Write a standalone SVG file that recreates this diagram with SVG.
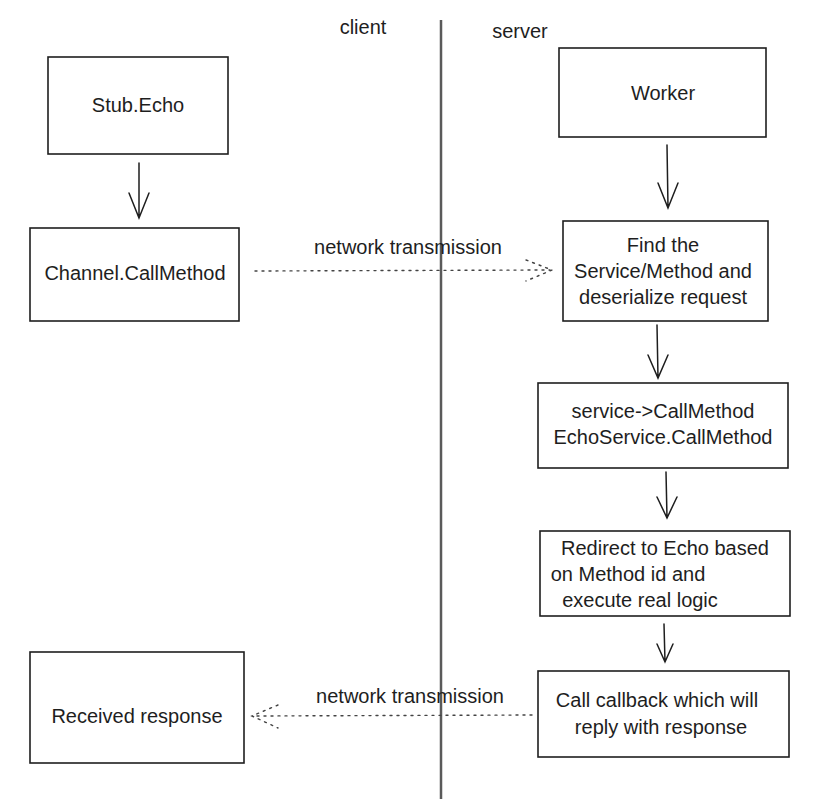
<svg xmlns="http://www.w3.org/2000/svg" width="826" height="799" viewBox="0 0 826 799">
<style>
.box{fill:#fff;stroke:#1e1e1e;stroke-width:1.6}
.t{font-family:"Liberation Sans",Arial,sans-serif;font-size:20px;fill:#1e1e1e;text-anchor:middle}
.arr{fill:none;stroke:#1e1e1e;stroke-width:1.5;stroke-linecap:round}
.dot{fill:none;stroke:#444;stroke-width:1.4;stroke-dasharray:2 5;stroke-linecap:round}
</style>
<rect width="826" height="799" fill="#fff"/>
<line x1="441" y1="20" x2="441" y2="799" stroke="#5a5a5a" stroke-width="2.5"/>
<text class="t" x="363" y="34">client</text>
<text class="t" x="520" y="38">server</text>
<g id="stub"><rect class="box" x="48" y="57" width="180" height="97"/><text class="t" x="138" y="112">Stub.Echo</text></g>
<g id="channel"><rect class="box" x="30" y="228" width="209" height="93"/><text class="t" x="135" y="280">Channel.CallMethod</text></g>
<g id="worker"><rect class="box" x="559" y="48" width="207" height="89"/><text class="t" x="663" y="100">Worker</text></g>
<g id="find"><rect class="box" x="563" y="221" width="205" height="100"/><text class="t" x="663" y="252">Find the</text><text class="t" x="663" y="278">Service/Method and</text><text class="t" x="663" y="304">deserialize request</text></g>
<g id="service"><rect class="box" x="538" y="383" width="250" height="85"/><text class="t" x="663" y="418">service-&gt;CallMethod</text><text class="t" x="663" y="444">EchoService.CallMethod</text></g>
<g id="redirect"><rect class="box" x="540" y="531" width="250" height="85"/><text class="t" x="665" y="555">Redirect to Echo based</text><text class="t" x="628" y="581">on Method id and</text><text class="t" x="640" y="607">execute real logic</text></g>
<g id="callback"><rect class="box" x="538" y="671" width="251" height="86"/><text class="t" x="657" y="707">Call callback which will</text><text class="t" x="661" y="734">reply with response</text></g>
<g id="received"><rect class="box" x="30" y="652" width="214" height="111"/><text class="t" x="137" y="723">Received response</text></g>
<g id="connectors">
<path class="arr" d="M139 163 L139 218 M129 193 L139 218 L149 193"/>
<path class="arr" d="M667 145 L668 208 M658 183 L668 208 L678 183"/>
<path class="arr" d="M657 325 L658 378 M648 355 L658 378 L668 355"/>
<path class="arr" d="M666 472 L667 518 M657 497 L667 518 L677 497"/>
<path class="arr" d="M664 624 L665 662 M657 644 L665 662 L673 644"/>
<path class="dot" d="M255 271 L550 270 M526 260 L552 270 L526 281"/>
<path class="dot" d="M532 715 L254 716 M278 705 L252 716 L278 728"/>
<text class="t" x="408" y="254">network transmission</text>
<text class="t" x="410" y="703">network transmission</text>
</g>
</svg>
